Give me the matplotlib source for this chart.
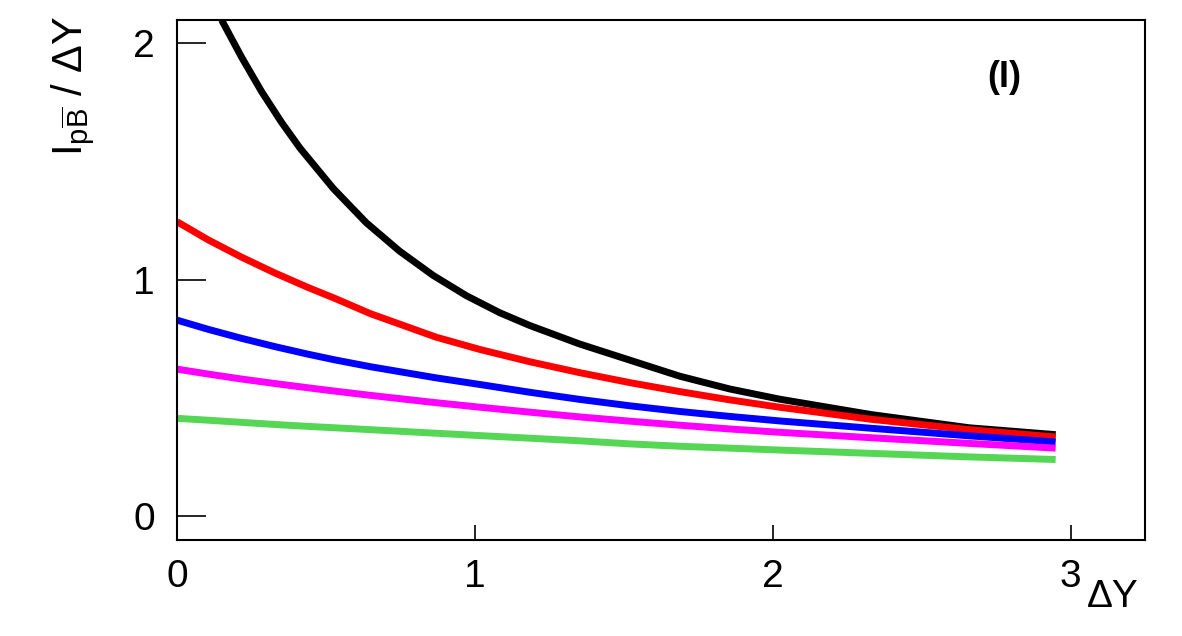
import numpy as np
import matplotlib.pyplot as plt

plt.rcParams['font.family'] = ['Liberation Sans', 'DejaVu Sans']
plt.rcParams['mathtext.fontset'] = 'custom'
plt.rcParams['mathtext.rm'] = 'Liberation Sans'
plt.rcParams['mathtext.it'] = 'Liberation Sans'

# values
dy = [0.0, 0.105, 0.217, 0.329, 0.44, 0.53, 0.65, 0.87, 1.017, 1.185, 1.352,
      1.52, 1.688, 1.856, 2.023, 2.33, 2.66, 2.95]
red = [1.245, 1.168, 1.095, 1.028, 0.967, 0.921, 0.856, 0.757, 0.705, 0.653, 0.607,
       0.565, 0.527, 0.492, 0.461, 0.410, 0.366, 0.335]
blue = [0.829, 0.790, 0.752, 0.717, 0.685, 0.661, 0.632, 0.585, 0.557, 0.524, 0.494,
        0.467, 0.443, 0.422, 0.403, 0.372, 0.340, 0.314]
magenta = [0.622, 0.601, 0.580, 0.561, 0.543, 0.529, 0.511, 0.480, 0.461, 0.440, 0.420,
           0.402, 0.385, 0.369, 0.355, 0.332, 0.308, 0.288]
green = [0.414, 0.406, 0.397, 0.388, 0.380, 0.374, 0.366, 0.351, 0.341, 0.330, 0.319,
         0.306, 0.296, 0.288, 0.280, 0.266, 0.251, 0.240]
black_x = [0.150, 0.217, 0.284, 0.351, 0.413, 0.525, 0.636, 0.748, 0.86, 0.972, 1.084,
           1.185, 1.352, 1.52, 1.688, 1.856, 2.023, 2.33, 2.66, 2.95]
black_y = [2.097, 1.940, 1.795, 1.665, 1.556, 1.385, 1.240, 1.120, 1.018, 0.932, 0.860,
           0.806, 0.728, 0.660, 0.592, 0.538, 0.495, 0.430, 0.374, 0.345]

fig = plt.figure(figsize=(11.82, 6.36), dpi=100)
ax = fig.add_axes([0.1497, 0.151, 0.819, 0.8175])

style = dict(lw=5, solid_capstyle='butt', solid_joinstyle='round')
ax.plot(black_x, black_y, color='black', **style)
ax.plot(dy, red, color='#ff0000', **style)
ax.plot(dy, blue, color='#0000ff', **style)
ax.plot(dy, magenta, color='#ff00ff', **style)
ax.plot(dy, green, color='#55d655', **style)

ax.set_xlim(0, 3.25)
ax.set_ylim(-0.10, 2.097)
ax.set_xticks([0, 1, 2, 3])
ax.set_yticks([0, 1, 2])
ax.tick_params(axis='y', direction='in', length=21, width=1.2, labelsize=28, pad=16)
ax.tick_params(axis='x', direction='in', length=11, width=1.2, labelsize=28, pad=14)
for s in ax.spines.values():
    s.set_linewidth(1.5)

ax.text(0.855, 0.89, '(I)', transform=ax.transAxes, fontsize=26, fontweight='bold',
        ha='center', va='center')
fig.text(0.941, 0.045, '\u0394Y', fontsize=28, ha='center', va='baseline')
ylab = r'$\mathrm{I}_{\mathrm{p}\overline{\mathrm{B}}}$' + ' / \u0394Y'
fig.text(0.062, 0.975, ylab, fontsize=30, rotation=90, ha='center', va='top')

fig.savefig('out.png', dpi=100)
